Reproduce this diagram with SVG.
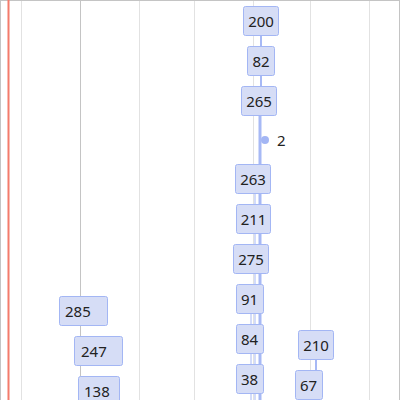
<svg xmlns="http://www.w3.org/2000/svg" width="400" height="400" viewBox="0 0 400 400">
<style>
.grid{stroke:#e2e2e2;stroke-width:1}
.grid2{stroke:#c4c4c4;stroke-width:1}
.box{fill:#d6ddf6;stroke:#a3b6f4;stroke-width:1}
.t{font-family:"Noto Sans","Open Sans",sans-serif;font-size:15px;fill:#222}
.c{text-anchor:middle}
.edge{stroke:#a7b9f5;fill:none}
</style>
<rect width="400" height="400" fill="#fff"/>
<g id="grid">
<line class="grid" x1="21.5" y1="0" x2="21.5" y2="400"/>
<line class="grid2" x1="80.5" y1="0" x2="80.5" y2="400"/>
<line class="grid" x1="139.5" y1="0" x2="139.5" y2="400"/>
<line class="grid" x1="194.5" y1="0" x2="194.5" y2="400"/>
<line class="grid" x1="253.5" y1="0" x2="253.5" y2="400"/>
<line class="grid" x1="310.5" y1="0" x2="310.5" y2="400"/>
<line class="grid" x1="369.5" y1="0" x2="369.5" y2="400"/>
<line class="grid2" x1="0" y1="0.5" x2="400" y2="0.5"/>
<line class="grid2" x1="0.5" y1="0" x2="0.5" y2="400"/>
<line class="grid2" x1="399.5" y1="0" x2="399.5" y2="400"/>
<line x1="8.5" y1="0" x2="8.5" y2="400" stroke="#f47b6b" stroke-width="2"/>
</g>
<g id="connectors">
<line class="edge" x1="261" y1="35" x2="261" y2="86" stroke-width="2"/>
<line class="edge" x1="260" y1="115" x2="260" y2="400" stroke-width="3"/>
<line class="edge" x1="255" y1="193" x2="255" y2="400" stroke-width="1" stroke="#b9c7f3"/>
<line class="edge" x1="251" y1="313" x2="251" y2="400" stroke-width="1"/>
<line class="edge" x1="316" y1="359" x2="316" y2="371" stroke-width="2"/>
</g>
<g id="n200"><rect class="box" x="243.5" y="6.5" width="35" height="29" rx="2"/><text class="t c" x="261" y="26.5">200</text></g>
<g id="n82"><rect class="box" x="247.5" y="46.5" width="27" height="29" rx="2"/><text class="t c" x="261" y="66.5">82</text></g>
<g id="n265"><rect class="box" x="241.5" y="86.5" width="35" height="29" rx="2"/><text class="t c" x="259" y="106.5">265</text></g>
<g id="n2"><circle cx="265" cy="140" r="4" fill="#a3b6f4"/><text class="t" x="277" y="145.5">2</text></g>
<g id="n263"><rect class="box" x="235.5" y="164.5" width="35" height="29" rx="2"/><text class="t c" x="253" y="184.5">263</text></g>
<g id="n211"><rect class="box" x="236.5" y="204.5" width="34" height="29" rx="2"/><text class="t c" x="253.5" y="224.5">211</text></g>
<g id="n275"><rect class="box" x="233.5" y="244.5" width="35" height="29" rx="2"/><text class="t c" x="251" y="264.5">275</text></g>
<g id="n91"><rect class="box" x="236.5" y="284.5" width="27" height="29" rx="2"/><text class="t c" x="249.5" y="304.5">91</text></g>
<g id="n84"><rect class="box" x="236.5" y="324.5" width="27" height="29" rx="2"/><text class="t c" x="249.5" y="344.5">84</text></g>
<g id="n38"><rect class="box" x="236.5" y="364.5" width="27" height="29" rx="2"/><text class="t c" x="249.5" y="384.5">38</text></g>
<g id="n210"><rect class="box" x="298.5" y="330.5" width="35" height="29" rx="2"/><text class="t c" x="316" y="350.5">210</text></g>
<g id="n67"><rect class="box" x="295.5" y="370.5" width="27" height="29" rx="2"/><text class="t c" x="308.5" y="390.5">67</text></g>
<g id="n285"><rect class="box" x="59.5" y="296.5" width="48" height="29" rx="2"/><text class="t" x="65" y="316.5">285</text></g>
<g id="n247"><rect class="box" x="74.5" y="336.5" width="48" height="29" rx="2"/><text class="t" x="81" y="356.5">247</text></g>
<g id="n138"><rect class="box" x="78.5" y="376.5" width="41" height="29" rx="2"/><text class="t" x="84" y="396.5">138</text></g>
</svg>
